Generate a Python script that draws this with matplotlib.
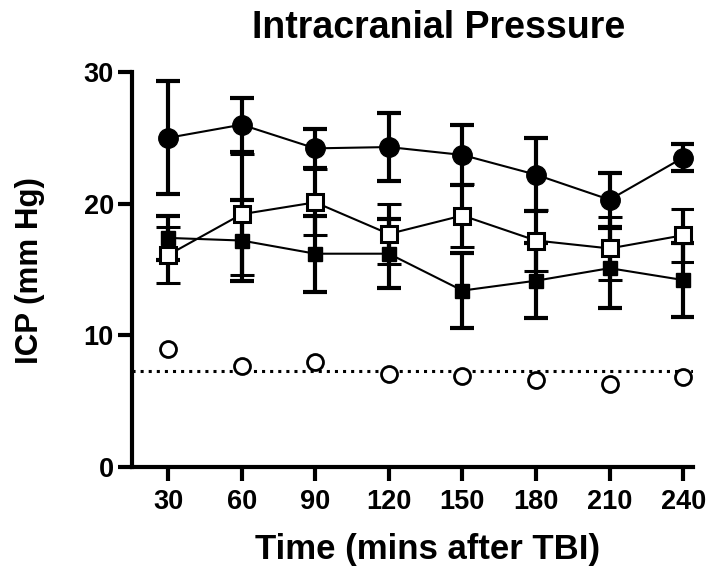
import matplotlib
matplotlib.use("Agg")
import matplotlib.pyplot as plt

plt.rcParams['font.family'] = ['Liberation Sans', 'DejaVu Sans']
plt.rcParams['font.weight'] = 'bold'

times = [30, 60, 90, 120, 150, 180, 210, 240]
filled_circle = [25.0, 26.0, 24.2, 24.3, 23.7, 22.2, 20.3, 23.5]
filled_circle_sd = [4.3, 2.05, 1.5, 2.55, 2.3, 2.75, 2.05, 1.0]
open_square = [16.1, 19.2, 20.1, 17.7, 19.1, 17.2, 16.6, 17.6]
open_square_sd = [2.15, 4.6, 2.5, 2.3, 2.4, 2.3, 2.4, 2.0]
filled_square = [17.4, 17.2, 16.2, 16.2, 13.4, 14.15, 15.1, 14.2]
filled_square_sd = [1.7, 3.05, 2.9, 2.6, 2.85, 2.85, 3.05, 2.8]
open_circle = [9.0, 7.7, 7.95, 7.05, 6.9, 6.6, 6.3, 6.8]
baseline = 7.3
yticks = [0, 10, 20, 30]

W, H = 711, 572
fig = plt.figure(figsize=(W / 100, H / 100), dpi=100)
ax = fig.add_axes([132 / W, 1 - 467 / H, (693 - 132) / W, (467 - 72) / H])

eb_kw = dict(ecolor='black', elinewidth=3, capsize=8.3, capthick=3, color='black', lw=1.5)

ax.errorbar(times, filled_square, yerr=filled_square_sd, marker='s', ms=10.5,
            mfc='black', mec='black', zorder=3, **eb_kw)
ax.errorbar(times, open_square, yerr=open_square_sd, marker='s', ms=11,
            mfc='white', mec='black', mew=2.2, zorder=4, **eb_kw)
ax.errorbar(times, filled_circle, yerr=filled_circle_sd, marker='o', ms=14,
            mfc='black', mec='black', zorder=5, **eb_kw)

ax.axhline(baseline, color='black', lw=2.2, ls=':', zorder=2)
ax.plot(times, open_circle, ls='none', marker='o', ms=11.5, mfc='white',
        mec='black', mew=2.0, zorder=6)

ax.set_xlim(15.3, 244)
ax.set_ylim(0, 30)
ax.set_xticks(times)
ax.set_yticks(yticks)
ax.spines['top'].set_visible(False)
ax.spines['right'].set_visible(False)
for s in ['left', 'bottom']:
    ax.spines[s].set_linewidth(3)
ax.tick_params(axis='both', length=10, width=3, labelsize=19.5)
ax.tick_params(axis='x', pad=6)
ax.tick_params(axis='y', pad=3)
for lab in ax.get_xticklabels() + ax.get_yticklabels():
    lab.set_fontweight('bold')

ax.set_xlabel('Time (mins after TBI)', fontsize=25, fontweight='bold')
ax.xaxis.set_label_coords((428 - 132) / (693 - 132), -(549 - 467) / (467 - 72))
ax.xaxis.label.set_va('center')
ax.set_ylabel('ICP (mm Hg)', fontsize=22.5, fontweight='bold')
ax.yaxis.set_label_coords(-(132 - 30) / (693 - 132), (467 - 271) / (467 - 72))
ax.yaxis.label.set_va('center')

fig.text(439 / W, 1 - 28 / H, 'Intracranial Pressure', ha='center', va='center',
         fontsize=27, fontweight='bold')

fig.savefig('out.png', dpi=100)
